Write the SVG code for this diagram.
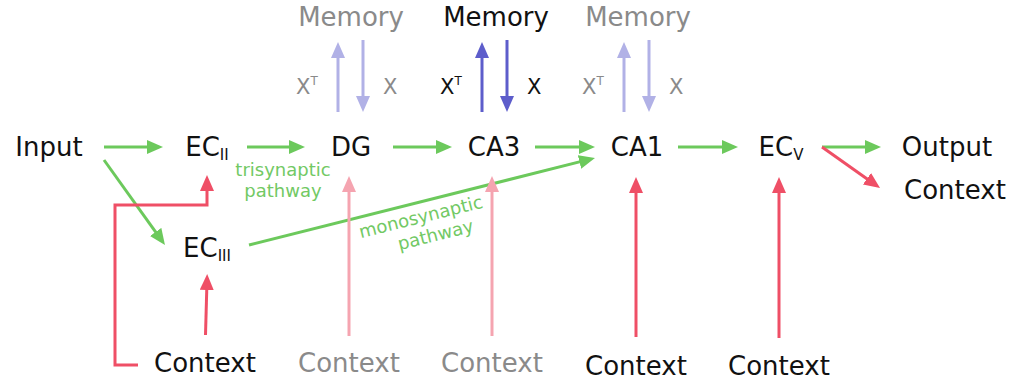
<svg xmlns="http://www.w3.org/2000/svg" width="1011" height="381" viewBox="0 0 1011 381">
<style>
text{font-family:"DejaVu Sans","Noto Sans",sans-serif;}
.lbl{font-size:26px;fill:#111;text-anchor:middle;}
.mem{font-size:26px;text-anchor:middle;}
.gray{fill:#8a8a8a;}
.blk{fill:#111;}
.sub{font-size:15px;}
.x{font-size:21px;}
.sup{font-size:12px;}
.path{font-size:18px;fill:#72c964;text-anchor:middle;}
.c{fill:none;stroke-width:3;}
.g{stroke:#6cc95c;}
.r{stroke:#ef4f66;}
.p{stroke:#f5a4b0;}
.lp{stroke:#b1b1e6;}
.dp{stroke:#5d5dcb;}
</style>
<defs>
<marker id="ag" markerUnits="userSpaceOnUse" markerWidth="16" markerHeight="14" refX="2" refY="7" orient="auto"><path d="M0,0 L16,7 L0,14 z" fill="#6cc95c"/></marker>
<marker id="ar" markerUnits="userSpaceOnUse" markerWidth="16" markerHeight="14" refX="2" refY="7" orient="auto"><path d="M0,0 L16,7 L0,14 z" fill="#ef4f66"/></marker>
<marker id="ap" markerUnits="userSpaceOnUse" markerWidth="16" markerHeight="14" refX="2" refY="7" orient="auto"><path d="M0,0 L16,7 L0,14 z" fill="#f5a4b0"/></marker>
<marker id="alp" markerUnits="userSpaceOnUse" markerWidth="16" markerHeight="14" refX="2" refY="7" orient="auto"><path d="M0,0 L16,7 L0,14 z" fill="#b1b1e6"/></marker>
<marker id="adp" markerUnits="userSpaceOnUse" markerWidth="16" markerHeight="14" refX="2" refY="7" orient="auto"><path d="M0,0 L16,7 L0,14 z" fill="#5d5dcb"/></marker>
</defs>

<g id="connectors">
<line class="c g" x1="104" y1="147" x2="149" y2="147" marker-end="url(#ag)"/>
<line class="c g" x1="247" y1="147" x2="291" y2="147" marker-end="url(#ag)"/>
<line class="c g" x1="393" y1="147" x2="438" y2="147" marker-end="url(#ag)"/>
<line class="c g" x1="535" y1="147" x2="581" y2="147" marker-end="url(#ag)"/>
<line class="c g" x1="678" y1="147" x2="724" y2="147" marker-end="url(#ag)"/>
<line class="c g" x1="822" y1="147" x2="867" y2="147" marker-end="url(#ag)"/>
<line class="c g" x1="104" y1="160" x2="156.8" y2="233.6" marker-end="url(#ag)"/>
<line class="c g" x1="249" y1="245" x2="581.4" y2="161.4" marker-end="url(#ag)"/>
<line class="c r" x1="822" y1="147" x2="868.6" y2="179.9" marker-end="url(#ar)"/>
<path class="c r" d="M138,365 H115 V205 H207 V189" marker-end="url(#ar)"/>
<line class="c r" x1="205.5" y1="335" x2="206.8" y2="288" marker-end="url(#ar)"/>
<line class="c p" x1="349" y1="336" x2="349" y2="190" marker-end="url(#ap)"/>
<line class="c p" x1="492" y1="336" x2="492" y2="190" marker-end="url(#ap)"/>
<line class="c r" x1="636" y1="337" x2="636" y2="191" marker-end="url(#ar)"/>
<line class="c r" x1="779" y1="338" x2="779" y2="191" marker-end="url(#ar)"/>
<line class="c lp" x1="338" y1="112" x2="338" y2="56" marker-end="url(#alp)"/>
<line class="c lp" x1="363" y1="40" x2="363" y2="98" marker-end="url(#alp)"/>
<line class="c dp" x1="482" y1="112" x2="482" y2="56" marker-end="url(#adp)"/>
<line class="c dp" x1="507" y1="40" x2="507" y2="98" marker-end="url(#adp)"/>
<line class="c lp" x1="624" y1="112" x2="624" y2="56" marker-end="url(#alp)"/>
<line class="c lp" x1="649" y1="40" x2="649" y2="98" marker-end="url(#alp)"/>
</g>

<g id="memory-dg"><text class="mem gray" x="351" y="26">Memory</text></g>
<g id="memory-ca3"><text class="mem blk" x="496" y="26">Memory</text></g>
<g id="memory-ca1"><text class="mem gray" x="638" y="26">Memory</text></g>

<g id="xlabels">
<text class="x gray" x="296" y="94">X<tspan class="sup" dy="-9">T</tspan></text>
<text class="x gray" x="383" y="94">X</text>
<text class="x blk" x="440" y="94">X<tspan class="sup" dy="-9">T</tspan></text>
<text class="x blk" x="527" y="94">X</text>
<text class="x gray" x="582" y="94">X<tspan class="sup" dy="-9">T</tspan></text>
<text class="x gray" x="669" y="94">X</text>
</g>

<g id="input"><text class="lbl" x="49" y="156">Input</text></g>
<g id="ec2"><text class="lbl" x="207" y="156">EC<tspan class="sub" dy="4">II</tspan></text></g>
<g id="dg"><text class="lbl" x="351" y="156">DG</text></g>
<g id="ca3"><text class="lbl" x="494" y="156">CA3</text></g>
<g id="ca1"><text class="lbl" x="637" y="156">CA1</text></g>
<g id="ec5"><text class="lbl" x="781" y="156">EC<tspan class="sub" dy="4">V</tspan></text></g>
<g id="output"><text class="lbl" x="947" y="156">Output</text></g>
<g id="context-out"><text class="lbl" x="955" y="199">Context</text></g>
<g id="ec3"><text class="lbl" x="207" y="257">EC<tspan class="sub" dy="4">III</tspan></text></g>

<g id="context-1"><text class="lbl" x="205" y="372">Context</text></g>
<g id="context-2"><text class="lbl gray" x="349" y="372">Context</text></g>
<g id="context-3"><text class="lbl gray" x="492" y="372">Context</text></g>
<g id="context-4"><text class="lbl" x="636" y="375">Context</text></g>
<g id="context-5"><text class="lbl" x="779" y="375">Context</text></g>

<g id="pathway-labels">
<text class="path" x="283" y="176">trisynaptic</text>
<text class="path" x="283" y="197">pathway</text>
<g transform="translate(421,218) rotate(-14)">
<text class="path" x="0" y="5">monosynaptic</text>
<text class="path" x="10" y="26">pathway</text>
</g>
</g>
</svg>
